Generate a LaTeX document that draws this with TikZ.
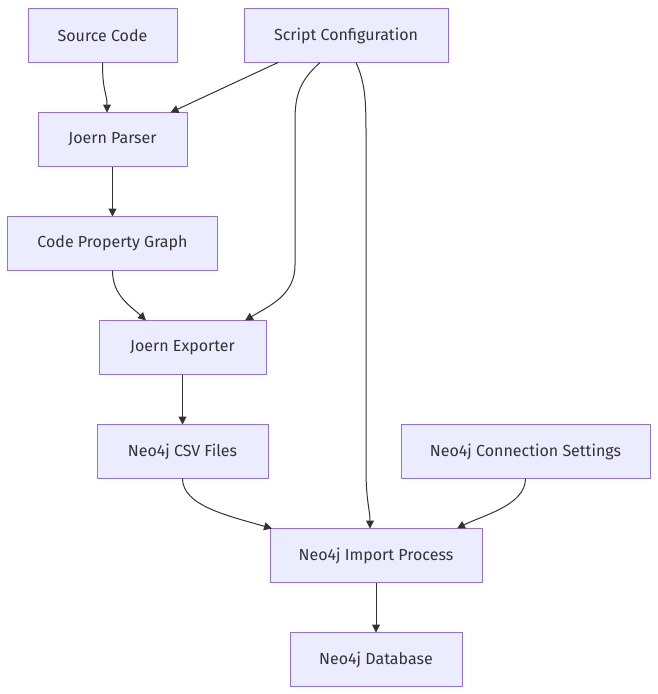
\documentclass[tikz,border=0pt]{standalone}
\usepackage{fontspec}
\setmainfont{Fira Sans}
\usepackage{tikz}
\usetikzlibrary{arrows.meta, positioning}
\usepackage{xcolor}

\definecolor{boxfill}{HTML}{ECECFF}
\definecolor{boxline}{HTML}{9370DB}
\definecolor{edgeline}{HTML}{333333}

\begin{document}
\begin{tikzpicture}[
      x=1pt, y=-1pt,
      stage/.style={draw=boxline, fill=boxfill, line width=1pt, text=edgeline,
        minimum height=54pt, inner sep=0pt, outer sep=0pt,
        font=\fontsize{16}{19}\selectfont},
      flow/.style={draw=edgeline, line width=1pt, -{Triangle[length=8pt, width=8pt]}}
    ]

    \useasboundingbox (0,0) rectangle (658,694);

    % Nodes
    \node[stage, minimum width=149pt] (source) at (102.5, 35.5) {Source Code};
    \node[stage, minimum width=204pt] (config) at (346, 35.5) {Script Configuration};

    \node[stage, minimum width=149pt] (parser) at (112.5, 139.5) {Joern Parser};

    \node[stage, minimum width=210pt] (cpg) at (112.5, 243.5) {Code Property Graph};

    \node[stage, minimum width=167pt] (exporter) at (182.5, 347.5) {Joern Exporter};

    \node[stage, minimum width=171pt] (csv) at (182.5, 451.5) {Neo4j CSV Files};
    \node[stage, minimum width=249pt] (conn) at (525.5, 451.5) {Neo4j Connection Settings};

    \node[stage, minimum width=212pt] (import) at (376, 555.5) {Neo4j Import Process};

    \node[stage, minimum width=172pt] (db) at (376, 659.5) {Neo4j Database};

    % Arrows
    \draw[flow] (source.south) .. controls +(0,30) and +(0,-20) .. ([xshift=-5.5pt]parser.north);
    \draw[flow] ([xshift=-68pt]config.south) -- ([xshift=58pt]parser.north);

    \draw[flow] ([xshift=-26pt]config.south) .. controls +(-20,18) and +(0,-25) .. (295,120)
      -- (295,265) .. controls +(0,30) and +(25,-15) .. ([xshift=62.5pt]exporter.north);

    \draw[flow] ([xshift=10pt]config.south) .. controls +(8,18) and +(0,-35) .. (366,130)
      -- (366,470) .. controls +(0,30) and +(0,-18) .. ([xshift=-6pt]import.north);

    \draw[flow] (parser) -- (cpg);
    \draw[flow] (cpg.south) .. controls +(0,25) and +(-16,-15) .. ([xshift=-36.5pt]exporter.north);

    \draw[flow] (exporter) -- (csv);
    \draw[flow] (csv.south) .. controls +(0,27) and +(-45,-13) .. ([xshift=-104pt]import.north);
    \draw[flow] (conn.south) .. controls +(0,27) and +(25,-13) .. ([xshift=81pt]import.north);

    \draw[flow] (import) -- (db);

  \end{tikzpicture}
\end{document}
